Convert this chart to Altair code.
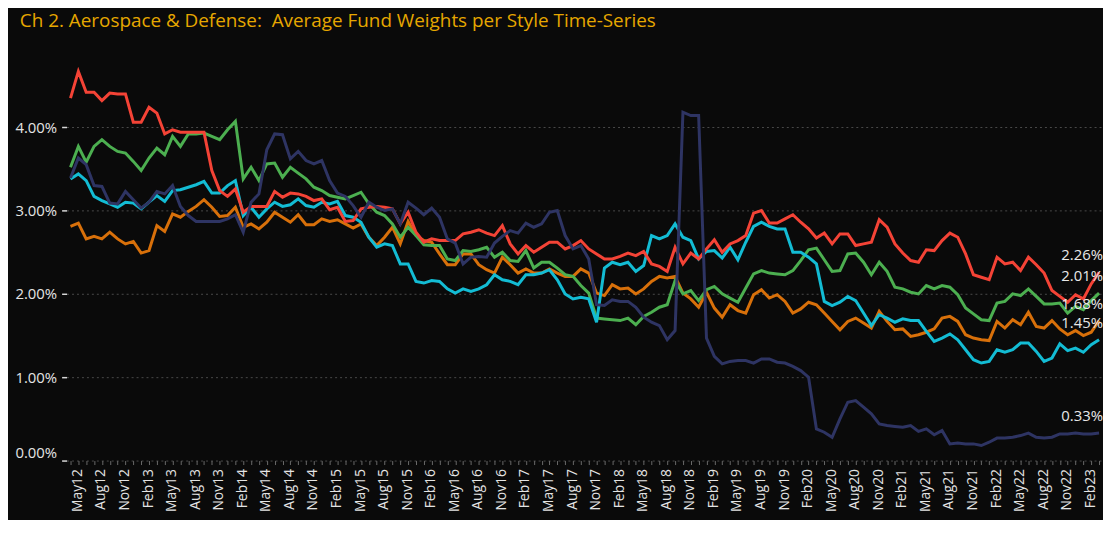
import altair as alt
import pandas as pd

# ---- month labels (May12 .. Apr23) ----
mon_names = ["Jan", "Feb", "Mar", "Apr", "May", "Jun", "Jul", "Aug", "Sep", "Oct", "Nov", "Dec"]
months = []
y, m = 2012, 4
while (y, m) <= (2023, 3):
    months.append(f"{mon_names[m]}{y % 100:02d}")
    m += 1
    if m == 12:
        m, y = 0, y + 1

# ---- series values (% weight) ----
red = [4.35, 4.67, 4.42, 4.42, 4.32, 4.41, 4.40, 4.40, 4.06, 4.06, 4.24, 4.17, 3.92, 3.97, 3.94, 3.94,
       3.94, 3.94, 3.48, 3.24, 3.17, 3.26, 2.98, 3.05, 3.05, 3.05, 3.23, 3.16, 3.21, 3.20, 3.17, 3.12,
       3.14, 3.01, 3.04, 2.87, 2.88, 3.02, 3.04, 3.05, 3.04, 3.02, 2.84, 2.98, 2.74, 2.62, 2.66, 2.64,
       2.64, 2.64, 2.72, 2.74, 2.77, 2.73, 2.70, 2.82, 2.60, 2.48, 2.58, 2.50, 2.56, 2.62, 2.62, 2.54,
       2.58, 2.64, 2.54, 2.48, 2.42, 2.42, 2.45, 2.49, 2.46, 2.51, 2.36, 2.33, 2.27, 2.56, 2.36, 2.49,
       2.42, 2.54, 2.65, 2.50, 2.60, 2.64, 2.70, 2.97, 3.00, 2.85, 2.85, 2.90, 2.95, 2.86, 2.78, 2.67,
       2.73, 2.60, 2.72, 2.72, 2.58, 2.60, 2.62, 2.89, 2.80, 2.60, 2.49, 2.40, 2.38, 2.53, 2.52, 2.64,
       2.73, 2.68, 2.48, 2.23, 2.20, 2.17, 2.44, 2.36, 2.38, 2.28, 2.44, 2.35, 2.25, 2.04, 1.97, 1.90,
       1.99, 1.94, 2.12, 2.26]
green = [3.52, 3.77, 3.58, 3.77, 3.85, 3.77, 3.71, 3.69, 3.59, 3.48, 3.63, 3.75, 3.67, 3.89, 3.77, 3.92,
         3.92, 3.93, 3.89, 3.85, 3.97, 4.07, 3.38, 3.52, 3.36, 3.56, 3.57, 3.40, 3.52, 3.45, 3.38, 3.28,
         3.24, 3.18, 3.16, 3.14, 3.18, 3.22, 3.08, 2.98, 2.94, 2.84, 2.68, 2.80, 2.70, 2.59, 2.58, 2.58,
         2.42, 2.40, 2.52, 2.51, 2.53, 2.56, 2.44, 2.50, 2.40, 2.39, 2.52, 2.31, 2.38, 2.38, 2.31, 2.23,
         2.21, 2.10, 2.01, 1.71, 1.70, 1.69, 1.68, 1.71, 1.63, 1.73, 1.78, 1.84, 1.87, 2.16, 2.00, 2.04,
         1.92, 2.05, 2.09, 2.00, 1.95, 1.90, 2.07, 2.24, 2.28, 2.25, 2.24, 2.23, 2.28, 2.40, 2.53, 2.55,
         2.41, 2.27, 2.28, 2.48, 2.49, 2.38, 2.23, 2.38, 2.27, 2.08, 2.06, 2.02, 2.00, 2.10, 2.06, 2.10,
         2.08, 1.99, 1.83, 1.76, 1.69, 1.68, 1.89, 1.91, 2.00, 1.98, 2.06, 1.97, 1.88, 1.88, 1.89, 1.77,
         1.85, 1.81, 1.92, 2.01]
cyan = [3.38, 3.44, 3.36, 3.17, 3.12, 3.08, 3.04, 3.10, 3.09, 3.02, 3.10, 3.18, 3.11, 3.24, 3.25, 3.28,
        3.31, 3.35, 3.21, 3.21, 3.30, 3.36, 2.94, 3.04, 2.92, 3.02, 3.10, 3.05, 3.07, 3.14, 3.06, 3.04,
        3.10, 3.08, 3.11, 2.94, 2.92, 2.86, 2.68, 2.56, 2.60, 2.58, 2.36, 2.36, 2.15, 2.13, 2.16, 2.15,
        2.06, 2.01, 2.06, 2.03, 2.06, 2.11, 2.23, 2.17, 2.15, 2.11, 2.23, 2.23, 2.25, 2.29, 2.17, 2.00,
        1.94, 1.96, 1.94, 1.66, 2.31, 2.38, 2.35, 2.38, 2.27, 2.34, 2.70, 2.66, 2.70, 2.84, 2.68, 2.64,
        2.42, 2.51, 2.52, 2.43, 2.56, 2.41, 2.62, 2.81, 2.86, 2.81, 2.78, 2.78, 2.50, 2.50, 2.44, 2.36,
        1.91, 1.86, 1.90, 1.97, 1.92, 1.77, 1.62, 1.75, 1.71, 1.66, 1.70, 1.68, 1.68, 1.55, 1.43, 1.47,
        1.52, 1.45, 1.33, 1.21, 1.17, 1.19, 1.33, 1.30, 1.33, 1.41, 1.41, 1.31, 1.19, 1.23, 1.40, 1.32,
        1.35, 1.30, 1.39, 1.45]
orange = [2.81, 2.85, 2.66, 2.69, 2.66, 2.74, 2.66, 2.60, 2.63, 2.49, 2.52, 2.82, 2.75, 2.96, 2.92, 2.99,
          3.05, 3.13, 3.04, 2.93, 2.94, 3.04, 2.80, 2.84, 2.78, 2.86, 2.98, 2.92, 2.86, 2.95, 2.83, 2.83,
          2.90, 2.87, 2.89, 2.84, 2.79, 2.84, 2.68, 2.58, 2.68, 2.80, 2.60, 2.87, 2.70, 2.64, 2.62, 2.48,
          2.35, 2.35, 2.48, 2.48, 2.35, 2.29, 2.25, 2.44, 2.35, 2.25, 2.30, 2.25, 2.25, 2.30, 2.25, 2.21,
          2.21, 2.30, 2.25, 2.01, 1.98, 2.11, 2.06, 2.07, 2.00, 2.06, 2.15, 2.21, 2.19, 2.21, 2.01, 1.94,
          1.84, 2.02, 1.83, 1.72, 1.87, 1.80, 1.77, 1.99, 2.05, 1.95, 1.99, 1.91, 1.77, 1.82, 1.90, 1.87,
          1.77, 1.67, 1.57, 1.67, 1.71, 1.65, 1.59, 1.79, 1.67, 1.57, 1.58, 1.49, 1.51, 1.54, 1.58, 1.71,
          1.73, 1.67, 1.51, 1.47, 1.45, 1.44, 1.67, 1.59, 1.69, 1.63, 1.78, 1.61, 1.59, 1.68, 1.58, 1.51,
          1.56, 1.50, 1.54, 1.68]
navy = [3.39, 3.63, 3.55, 3.30, 3.29, 3.09, 3.08, 3.23, 3.13, 3.03, 3.10, 3.23, 3.20, 3.30, 3.05, 2.94,
        2.87, 2.87, 2.87, 2.87, 2.90, 2.95, 2.74, 3.10, 3.20, 3.73, 3.92, 3.91, 3.62, 3.71, 3.60, 3.56,
        3.60, 3.36, 3.21, 3.17, 3.06, 2.92, 3.10, 3.04, 3.00, 3.02, 2.84, 3.10, 3.03, 2.95, 3.03, 2.92,
        2.66, 2.61, 2.36, 2.44, 2.45, 2.44, 2.61, 2.69, 2.76, 2.73, 2.85, 2.80, 2.84, 2.98, 3.00, 2.70,
        2.54, 2.58, 2.42, 1.87, 1.86, 1.93, 1.91, 1.91, 1.84, 1.72, 1.66, 1.62, 1.45, 1.56, 4.18, 4.14,
        4.14, 1.47, 1.25, 1.16, 1.19, 1.20, 1.20, 1.17, 1.22, 1.22, 1.18, 1.17, 1.13, 1.08, 1.00, 0.38,
        0.34, 0.28, 0.50, 0.70, 0.72, 0.64, 0.56, 0.44, 0.42, 0.41, 0.40, 0.42, 0.35, 0.38, 0.31, 0.36,
        0.20, 0.21, 0.20, 0.20, 0.18, 0.22, 0.27, 0.27, 0.28, 0.30, 0.33, 0.28, 0.27, 0.28, 0.32, 0.32,
        0.33, 0.32, 0.32, 0.33]

styles = ["Orange", "Green", "Cyan", "Red", "Navy"]
series = [orange, green, cyan, red, navy]
colors = ["#d8700a", "#4caf50", "#13bcd4", "#f44336", "#2e3463"]
y_ticks = [0, 1, 2, 3, 4]

rows = []
for s, vals in zip(styles, series):
    for mo, v in zip(months, vals):
        rows.append({"style": s, "month": mo, "value": v})
df = pd.DataFrame(rows)

last = df[df["month"] == months[-1]].copy()
last["label"] = last["value"].map(lambda v: f"{v:.2f}%")

FONT = "Open Sans"

x_enc = alt.X(
    "month:O", sort=months, title=None,
    scale=alt.Scale(type="point", padding=0.5),
    axis=alt.Axis(
        labelExpr="indexof(['May','Aug','Nov','Feb'], substring(datum.value,0,3)) >= 0 ? datum.value : ''",
        labelAngle=270, labelAlign="right", labelBaseline="top", labelPadding=4,
        labelOverlap=False, labelColor="#e4e4e4", labelFont=FONT, labelFontSize=14,
        tickSize=4, tickColor="#6a6a6a", tickWidth=1, domain=False, grid=False,
    ),
)
y_enc = alt.Y(
    "value:Q", title=None,
    scale=alt.Scale(domain=[0, 4.67], nice=False, zero=True),
    axis=alt.Axis(
        values=y_ticks, labelExpr="format(datum.value, '.2f') + '%'",
        grid=True, gridDash=[2, 3], gridColor="#4a4a4a", gridWidth=1,
        tickSize=5, tickColor="#d8d8d8", tickWidth=1.5, domain=False,
        labelFlush=True, labelPadding=5, labelColor="#e4e4e4", labelFont=FONT, labelFontSize=15,
    ),
)

base = alt.Chart(df)
layers = []
for s, c in zip(styles, colors):
    layers.append(
        base.transform_filter(alt.datum.style == s)
        .mark_line(color=c, strokeWidth=3)
        .encode(x=x_enc, y=y_enc)
    )

labels = alt.Chart(last).mark_text(
    align="right", baseline="middle", dx=4, dy=-17, fontSize=15, color="#e8e8e8", font=FONT
).encode(x=alt.X("month:O", sort=months), y="value:Q", text="label:N")

chart = alt.layer(*layers, labels).properties(
    width=1044,
    height=392,
    autosize=alt.AutoSizeParams(type="none"),
    padding={"left": 59, "top": 62, "right": 0, "bottom": 58},
    background="#0a0a0a",
    title=alt.TitleParams(
        "Ch 2. Aerospace & Defense:\u00a0 Average Fund Weights per Style Time-Series",
        anchor="start", color="#e6a700", font=FONT, fontSize=19, fontWeight="normal",
        dx=5, offset=26, baseline="middle",
    ),
).configure_view(stroke=None)

chart.save("out.html", embed_options={"renderer": "svg", "actions": False})
